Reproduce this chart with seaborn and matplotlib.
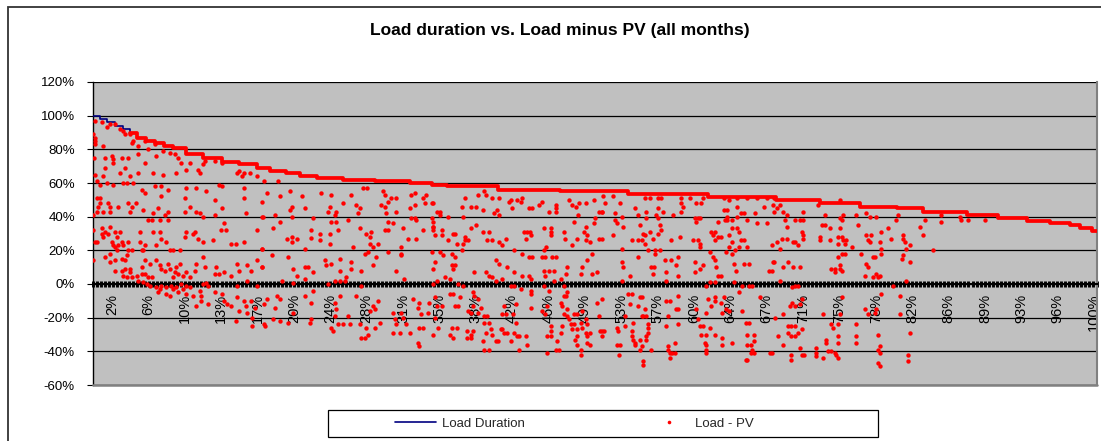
import numpy as np
import pandas as pd
import matplotlib
matplotlib.use("Agg")
import matplotlib.pyplot as plt
import seaborn as sns
from matplotlib.patches import Rectangle
from matplotlib.lines import Line2D

sns.set_theme(style="white")
plt.rcParams["font.family"] = ["Liberation Sans", "DejaVu Sans"]

# ---------------- data ----------------
title = "Load duration vs. Load minus PV (all months)"
x_labels = ["2%", "6%", "10%", "13%", "17%", "20%", "24%", "28%", "31%", "35%",
            "38%", "42%", "46%", "49%", "53%", "57%", "60%", "64%", "67%", "71%",
            "75%", "78%", "82%", "86%", "89%", "93%", "96%", "100%"]
y_ticks = [-60, -40, -20, 0, 20, 40, 60, 80, 100, 120]
y_labels = ["-60%", "-40%", "-20%", "0%", "20%", "40%", "60%", "80%", "100%", "120%"]

# Load duration curve (x = % of hours, y = % of peak load), step levels
ld_x = [0, 0.7, 1.4, 2.2, 3, 3.7, 4.4, 5.3, 6.2, 7.1, 8, 9.3, 11, 12.8, 14.5, 16.3,
        17.6, 19.2, 20.6, 22.3, 24.9, 28.1, 31.6, 33.8, 35.3, 40.3, 46.5, 53.3, 61.3,
        68, 72.4, 76.4, 80.1, 82.7, 84.9, 87.1, 90.1, 93, 95.3, 97.3, 98.3, 99.5, 100]
ld_y = [100, 98, 96, 94, 92, 90, 87, 85, 83.5, 82, 80.5, 77.5, 75, 72.7, 71, 69,
        67, 66, 64, 63, 62, 61, 60, 59, 58, 56, 55, 53.5, 51.5,
        50, 48, 46, 45, 43, 42.5, 41, 39, 37.5, 36, 35, 33, 31.5, 31.5]

# Load - PV scatter points (x %, y %)
pv_a = [(0.2,97),(0.9,96),(1.4,93),(1.7,95),(2.2,95),(2.7,92),(3,91),(3.2,89),(3.7,89),(4,85),(3.9,84),
        (5.2,85),(4.5,82),(6.2,83),(5.5,80),(6.3,76),(7,79),(7.7,78),(8.2,77),(8.5,75),(8.8,72),(9.7,72),
        (9.3,68),(10.5,68),(10.7,66),(11,71),(11.2,73),(12.2,73),(12.8,72),(14.5,67),(15,66),(15.6,66),
        (16.3,64),(17,61),(14.8,64),(14.3,66),(12.5,59),(12.8,58),(15,57),
        (0,89),(0.2,87),(0.2,85),(0.2,83),(1,82),(0.1,75),(1.2,75),(1.9,76),(2,74),(2,72),(2.9,75),(3.5,75),
        (4.5,77),(1.2,69),(0.2,65),(1,64),(0.4,61),(1.4,60),(0.7,59),(2,59),(3,60),(3.4,60),(2.7,66),(3.2,69),
        (3.7,64),(4,60),(4.5,66),(5.2,72),(6,66),(7,65),(8.3,66),(6.2,58),(6.8,58),(4.9,56),(5.2,54),(6.8,52),
        (7.5,56),(9.3,57),(10.3,57),(9.2,51),(11.3,55),(12.2,50),(0.4,51),(0.7,51),(0.7,48),(0.5,46),(1.5,48),
        (1.7,46),(2.5,46),(3.5,48),(3.9,46),(4.3,48),(3.7,43),(5,44),(6,42),(6.5,45),(7.5,43),(9.7,46),(9.2,43),
        (10.3,43),(10.7,42),(12.8,45),(0.4,43),(1,43),(0,41),(1.7,43),(5.5,38),(6.7,38),(7.2,41),(7.5,38),
        (11,40),(12.2,41),(15,51),(15.2,42),(16.8,40),(0,32),(0.9,33),(0.9,30),(1,28),(1.2,31),(1.5,30),
        (0.2,25),(0.4,25),(1.9,25),(1.7,34),(2.2,31),(2.7,31),(2.4,28),(2.9,25),(2.5,23),(2.2,22),(2,23),
        (3,23),(3.5,25),(3.9,20),(3.5,20),(4.7,31),(4.7,25),(4.9,20),(5,20),(5.2,23),(5.9,38),(6,31),(6.7,31),
        (6.8,27),(6.3,23),(7.3,25),(7.7,20),(8,20),(8.7,20),(9.3,31),(9.2,28),(10,30),(10.2,31),(10.5,27),
        (11,25),(12,26),(12.7,32),(13,36),(13.2,32),(13.7,24),(14.2,24),(15,25),(16.3,32),(16.8,21),(1.2,16),
        (0,14),(1.7,13),(2.2,14),(2.9,15),(3.2,14),(3.4,17),(1.7,18),(2.4,20),(2.2,8),(2.9,8),(3.2,9),(3.7,9),
        (3.7,7),(3,5),(3.4,4),(3.9,4),(4.4,5),(4.5,2),(4.9,6),(5.2,6),(5.5,4),(5.9,4),(4.9,10),(5.2,14),
        (5.7,12),(6.3,14),(6.7,11),(6.8,9),(7.2,8),(7.5,12),(7.7,9),(8.3,10),(8.7,12),(8.2,7),(8,4),(8.5,6),
        (9,5),(9.3,7),(10.3,12),(10.2,8),(9.7,4),(11,16),(11.2,10),(12.3,10),(12.5,6),(12.2,6),(13,7),
        (13.7,5),(14.3,12),(14.5,8),(15.3,11),(15.7,8),(16.3,14),(16.8,10),(15.3,2),(5,1),(5.4,0),(5.7,-1),
        (6.3,-2),(6.7,-3),(6.8,-1),(7.3,-2),(7.8,-1),(8,-3),(8.3,-2),(8.8,0),(9,-3),(9.3,-1),(9.7,-2),
        (6.5,-5),(7.3,-6),(7.7,-7),(8.5,-5),(9.3,-6),(10,-7),(10.7,-4),(10.8,-7),(11,0),(11.3,0.7),(11.5,-1),
        (10.3,-13),(10.8,-10),(11.5,-12),(12.2,-5),(12.8,-6),(13,-10),(13.3,-12),(13.7,-13),(14.3,-1),
        (14.3,-8),(14.2,-22),(14.5,-16),(15,-10),(15.2,-13),(15.3,-17),(15.7,-10),(15.8,-20),(15.8,-25),
        (16.1,-14),(17,-12),(17,-24),(16.3,-1)]

pv_b = [(18.4,61),(17.3,54),(16.8,49),(18.6,52),(19.6,55),(20.8,52),(21.1,45),(19.8,46),(19.6,44),(18.1,41),
        (19.8,40),(16.9,40),(18.6,37),(17.9,33),(19.3,27),(19.8,28),(19.8,25),(20.3,27),(16.8,21),(21.1,21),
        (17.8,17),(19.4,16),(16.8,10),(19.9,9),(21.1,10),(21.4,10),(21.9,7),(20.3,4.6),(21.1,3),(18.8,1.7),
        (19.9,0.3),(21.9,39.5),(21.7,32),(22.6,30),(21.7,27.5),(22.6,26),(22.7,54),(23.7,53),(23.6,46),
        (24.2,43),(24.1,41),(23.4,43),(24.9,48),(25.7,53),(26.2,47),(26.6,45),(26.4,42),(25.4,38),(23.7,37),
        (24.2,37),(24.4,32),(23.6,30),(26.6,33),(27.2,30),(27.7,31),(27.6,28),(27.6,24),(28.4,24),(27.9,22),
        (27.1,18),(27.4,19),(28.2,16),(27.9,11),(25.7,13),(25.9,22),(23.6,24),(23.1,14),(23.2,11),(23.7,12),
        (24.6,15),(24.6,8),(25.2,4),(25.7,9),(26.7,8),(23.4,0),(24.1,2),(24.6,2),(25.1,2),
        (26.9,57),(27.3,57),(28.9,55),(29.1,53),(29.4,49),(29.7,51),(30.2,51),(28.7,47),(29.1,46),(29.2,42),
        (30.2,43),(29.9,36),(29.4,37),(29.1,32),(29.4,32),(30.9,33),(31.6,45),(32.1,47),(31.7,53),(32.1,54),
        (32.9,51),(33.2,53),(33.1,48),(33.9,48),(32.1,39),(32.2,38),(31.7,39),(32.9,32),(33.9,37),(33.9,34),
        (31.4,27),(32.2,27),(30.7,22),(30.7,18),(30.7,17),(29.4,19),(30.2,8),(31,3),(33.9,0),
        (18.3,-7),(18.6,-9),(17.3,-9),(18.1,-14),(17.1,-25),(17.9,-21),(18.6,-22),(19.9,-17),(19.4,-23),
        (21.6,-23),(21.7,-21),(21.1,-7),(21.9,-4),(21.7,-11),(24.1,-11),(24.2,-15),(24.1,-19),(23.7,-26),
        (23.9,-28),(24.4,-24),(24.9,-24),(25.4,-19),(24.6,-7),(25.6,-24),(26.6,-24),(26.7,-32),(27.1,-32),
        (27.2,-26),(27.4,-30),(28.1,-26),(28.6,-23),(28.1,-15),(28.4,-10),(27.9,-13),(27.6,-16),(29.9,-17),
        (30.1,-21),(30.2,-24),(30.6,-29),(29.9,-29),(31.2,-24),(31.6,-29),(30.9,-20),(30.7,-17),(31.9,-9),
        (32.5,-11),(32.4,-14),(32.7,-18),(32.5,-26),(32.9,-26),(32.4,-35),(32.5,-37),(33.5,-11),(33.4,-17),
        (26.7,-1),(26.2,-7)]

pv_c = [(33.8,48),(34.3,43),(34.6,43),(34.6,41),(35.4,40),(36.9,40),(38.3,53),(38.9,55),(39.1,53),(37.1,51),
        (38.1,46),(37.6,46),(36.8,46),(38.8,44),(39.7,51),(40.4,51),(39.9,42),(40.2,44),(40.4,41),(41.6,50),
        (41.4,49),(41.7,45),(42.2,50),(42.7,51),(42.6,49),(43.4,45),(43.7,45),(44.4,47),(44.7,49),(45.4,43),
        (46.1,47),(46.1,45),(46.1,43),(47.4,50),(47.7,47),(48.1,46),(48.4,48),(49.1,48),(49.9,50),(50.4,43),
        (50.7,43),(47.9,37),(48.3,41),(50,39),(49.9,36),(49.1,34),(48.9,31),(49.2,29),(49.5,25),(49.1,26),
        (50.4,27),(48.2,27),(47.7,23),(47,27),(46.9,31),(45.6,33),(45.6,31),(45.6,29),(44.9,33),(45.1,22),
        (44.9,20),(44.7,16),(45,16),(45.7,16),(46.1,16),(43.6,29),(43.1,27),(43.2,31),(43.5,31),(42.9,31),
        (43.7,16),(43.4,16),(42.7,18),(41.9,20),(41.1,27),(40.7,23),(40.4,25),(39.7,26),(39.4,31),(38.8,31),
        (39.2,26),(38.1,35),(37.6,33),(37.4,26),(37.1,26),(37.1,28),(36.9,24),(36.3,24),(36.8,20),(36.1,30),
        (35.9,30),(35.4,26),(34.8,32),(34.8,29),(33.9,32),(34.1,29),(33.9,34),(33.8,39),(33.8,19),(34.6,19),
        (34.9,17),(35.8,18),(36.1,16),(35.8,11),(36.1,11),(35.9,9),(34.1,13),(33.9,9),(35.1,4),(34.3,2),
        (35.6,3),(36.4,0),(36.9,-1),(37.9,7),(39.1,7),(39.4,5),(39.7,4),(40.1,2),(40.7,3),(40.4,12),(40.1,14),
        (41.2,10),(41.9,7),(41.9,-1),(41.6,-1),(42.7,5),(43.4,5),(43.6,3),(44.9,8),(45.4,8),(45.9,8),(46.6,3),
        (47.1,6),(45,5),(45.9,2),(47.2,10),(48.7,10),(49.2,14),(49.7,18),(50.2,7),(49.7,6),(48.6,6),(44.9,-1),
        (46.9,-1),
        (34.1,-8),(34.3,-13),(34.8,-13),(36.1,-13),(36.4,-13),(36.6,-8),(35.9,-6),(35.6,-6),(34.1,-20),
        (33.9,-30),(34.4,-26),(35.8,-26),(36.3,-26),(35.6,-30),(35.9,-32),(37.3,-28),(37.6,-30),(37.3,-32),
        (37.6,-32),(37.8,-28),(37.8,-5),(37.9,-7),(38.3,-9),(37.8,-13),(37.4,-16),(37.6,-17),(38.3,-17),
        (38.6,-14),(38.9,-19),(39.2,-19),(39.4,-23),(38.9,-23),(39.1,-29),(38.8,-34),(38.9,-39),(39.4,-39),
        (39.6,-27),(39.7,-30),(40.1,-34),(40.3,-34),(40.6,-27),(40.7,-27),(40.9,-29),(41.2,-29),(41.1,-18),
        (40.7,-18),(40.9,-13),(41.8,-18),(42.1,-23),(41.9,-29),(42.4,-31),(42.2,-31),(41.6,-34),(42.4,-39),
        (43.1,-31),(43.2,-36),(42.1,-12),(42.6,-3),(43.6,-6),(43.6,-14),(44.7,-16),(45.2,-13),(45,-18),
        (45.2,-31),(45.6,-31),(45.6,-25),(45.6,-28),(45.2,-41),(46.2,-34),(46.4,-39),(46.1,-39),(46.6,-29),
        (46.7,-25),(46.7,-13),(46.6,-11),(46.9,-18),(47.2,-19),(47.1,-7),(47.2,-15),(47.4,-21),(47.6,-24),
        (47.9,-24),(47.7,-27),(48.2,-27),(48.2,-31),(48,-33),(48.2,-36),(47.9,-18),(48.2,-18),(48.7,-16),
        (48.6,-23),(49.1,-21),(49.2,-24),(49.1,-29),(49.2,-31),(49.2,-35),(49.5,-36),(48.6,-39),(48.6,-42),
        (49.5,-29),(48.7,-26),(50.2,-11),(50.4,-19),(50.5,-28),(50.9,-28),(50.7,-31),(47.2,-5),(46.9,-7),
        (45.4,-4),(43.6,-4)]

pv_d = [(50.8,52),(51,48),(51.8,52),(52.5,48),(52,42),(52.2,36),(52,38),(52.7,40),(52.8,34),(51.8,29),
        (50.7,27),(50.7,43),(54,45),(54.3,41),(55.1,43),(55.1,39),(55,51),(55.5,51),(56.3,51),(56.6,51),
        (56.3,45),(56.8,43),(56.1,41),(56.3,39),(56.5,35),(56.6,32),(56.3,30),(55.5,31),(54.8,30),(54.5,35),
        (54.7,26),(54.3,26),(53.7,26),(55,29),(55,24),(55.8,27),(55.3,20),(56,20),(56,18),(56.5,20),(57.6,26),
        (58.5,28),(57.8,41),(58.6,51),(58.6,48),(58.6,43),(58.8,46),(59.5,51),(60.1,48),(60.6,48),(60.8,51),
        (60,39),(60.1,37),(60.3,39),(60.5,39),(59.8,26),(60.3,26),(60.5,24),(60.5,22),(61.6,31),(62,31),
        (61.8,29),(62.3,28),(62,26),(62.5,28),(62.3,37),(63.1,38),(63.1,40),(63.1,44),(62.9,38),(62.8,44),
        (63.6,38),(63.6,33),(64.1,33),(64.3,31),(63.3,29),(63.6,25),(63.3,22),(63.9,20),(63.6,18),(64.3,22),
        (64.5,26),(64.8,26),(64.5,42),(64.8,42),(64.1,40),(65.1,38),(65.1,22),(64.1,46),(65.9,42),(66.1,36),
        (67.1,36),(66.8,46),(67.8,43),(66.1,51),(67.1,51),(67.8,51),(65.1,51),(64.1,51),(63.3,50),(62.8,51),
        (52.7,21),(52.7,13),(52.8,10),(52.7,2),(53.5,5),(54.3,16),(55.6,10),(55.9,10),(55.8,6),(57,14),(57.1,7),
        (57.1,2),(57.6,14),(58.1,11),(58.3,16),(58.3,5),(60,13),(60,7),(60.5,9),(60.8,11),(61.5,19),(61.8,16),
        (62,14),(62.1,10),(62.3,5),(62.5,5),(63,19),(63.8,12),(64,8),(64.8,12),(65.3,12),(67.3,8),(67.6,8),
        (67.8,13),(63.8,1),(64.6,-1),(65.3,-1),(65.6,-1),(61.5,1),(62,1),(61.1,-1),
        (50.7,-9),(50.7,-28),(52.2,-26),(52.3,-28),(52.2,-36),(52.5,-36),(52.4,-42),(53.3,-6),(53.7,-6),
        (53.5,-12),(53,-19),(53,-25),(53.7,-28),(53.8,-23),(53.7,-31),(54,-35),(53.8,-33),(54,-36),(54.5,-33),
        (54.5,-8),(54.7,-8),(54.3,-13),(54.7,-19),(54.8,-19),(55.1,-19),(55,-15),(55.3,-24),(55.3,-26),
        (55.3,-29),(55.1,-31),(55.1,-33),(54.7,-37),(54.8,-46),(54.8,-48),(54.5,-39),(55.6,-39),(57.1,-10),
        (57.5,-10),(57.3,-19),(57.1,-25),(58.1,-15),(58.3,-15),(58.3,-24),(58.3,-7),(58,-35),(57.3,-37),
        (57.3,-39),(57.5,-41),(57.5,-44),(57.7,-41),(58,-41),(60.1,-15),(60.3,-21),(60.5,-25),(60.8,-25),
        (61.1,-30),(60.6,-30),(61,-35),(61.1,-36),(61.1,-39),(61.1,-41),(61.5,-26),(62,-30),(61.1,-17),
        (61.6,-13),(61.3,-9),(62,-8),(62,-10),(62.8,-8),(63,-15),(62.5,-11),(62.6,-17),(63.3,-16),(62.6,-32),
        (62.6,-36),(63.6,-35),(64.6,-16),(65,-23),(65.3,-23),(65.1,-30),(65.8,-30),(65.1,-36),(65.5,-36),
        (65.8,-34),(65.6,-39),(65.1,-45),(65,-45),(65.5,-41),(65.8,-41),(64.3,-5),(66.4,-8),(67.4,-41)]

pv_e = [(67.7,47),(68.1,45),(68.4,47),(68.7,43),(69.1,41),(68.9,38),(69.1,34),(69.9,38),(70.4,38),(70.7,38),
        (70.7,43),(70.6,31),(70.7,29),(70.7,27),(69.9,25),(69.7,25),(70.2,23),(69.1,27),(68.6,27),(68.1,25),
        (68.4,21),(67.6,23),(67.7,13),(68.7,10),(69.2,13),(69.7,10),(70.4,10),(68.4,2),(69.9,-1),(69.6,-2),
        (70.2,-1),(72.2,47),(72.9,41),(72.6,35),(72.9,35),(73.4,33),(72.4,28),(72.4,26),(73.4,26),(74.4,50),
        (74.4,39),(74.7,41),(74.6,38),(74.2,28),(74.6,28),(74.4,33),(74.7,26),(75,26),(74.2,24),(74.9,24),
        (75.6,22),(74.6,18),(74.9,18),(74.2,16),(73.5,9),(73.9,9),(74.4,9),(74.6,8),(73.9,7),(74.4,11),(76,41),
        (76.2,35),(77,42),(77.4,40),(78,40),(77,29),(77.2,26),(77.4,25),(77.5,29),(76.5,18),(77.7,16),(77.9,16),
        (77,12),(77.2,10),(76.9,5),(77.7,4),(78.2,4),(78,6),(78.4,5),(78.5,21),(78.5,18),(78.4,25),(78.5,31),
        (79.2,33),(79.5,27),(80.2,41),(80,38),(80.7,29),(80.7,27),(80.9,25),(81,21),(81.4,23),(80.7,17),
        (80.6,15),(81.4,13),(81,2),(82.4,34),(82.9,38),(82.7,29),(83.7,20),(84.5,41),(79.7,-1),
        (68.7,-18),(69.4,-13),(69.6,-11),(69.9,-13),(70.6,-9),(70.4,-12),(67.9,-20),(67.6,-41),(68.2,-31),
        (68.7,-36),(69.2,-25),(69.5,-25),(69.9,-25),(69.2,-29),(69.5,-31),(69.9,-31),(70.2,-29),(70.6,-27),
        (69.5,-42),(69.5,-45),(70.4,-38),(70.6,-42),(70.8,-42),(72,-38),(72,-41),(72,-43),(72.7,-44),
        (72.7,-18),(73,-33),(73,-35),(73.5,-24),(73.7,-26),(73.2,-40),(73.5,-40),(73.9,-41),(74,-42),
        (74.2,-44),(74.2,-35),(74.2,-31),(74.2,-24),(74.4,-18),(74.6,-8),(76,-24),(76,-31),(76,-35),
        (76.9,-15),(77.2,-18),(77.9,-17),(78,-15),(78.2,-30),(78.4,-37),(78.2,-39),(78.4,-41),(78.2,-47),
        (78.4,-49),(78.5,-6),(80.4,-7),(80.4,-18),(81.4,-29),(81.2,-42),(81.2,-46)]

pv_f = [(84.5,37),(86.5,38),(87.2,38),(86.4,40),(88.8,38)]

# ---------------- figure ----------------
W, H = 1101, 441
fig = plt.figure(figsize=(W / 100, H / 100), dpi=100)
fig.patch.set_facecolor("white")

# outer chart border
fig.add_artist(Rectangle((8 / W, -0.1), 1.2, 1 - 7 / H + 0.1, transform=fig.transFigure,
                         fill=False, edgecolor="#333333", lw=1.3, zorder=0))

ax = fig.add_axes([93 / W, 1 - 385 / H, 1004 / W, 303 / H])
ax.set_facecolor("#C0C0C0")

pts = pv_a + pv_b + pv_c + pv_d + pv_e + pv_f
df_pv = pd.DataFrame(pts, columns=["x", "y"])
df_ld = pd.DataFrame({"x": ld_x, "y": ld_y})

# load duration (blue line)
sns.lineplot(data=df_ld, x="x", y="y", color="#000080", lw=1.2, drawstyle="steps-post",
             estimator=None, sort=False, ax=ax, zorder=3)
# night hours: Load - PV equals load -> dense red band on the duration curve
env = df_ld[df_ld["x"] >= 3.7]
sns.lineplot(data=env, x="x", y="y", color="red", lw=2.7, drawstyle="steps-post",
             estimator=None, sort=False, ax=ax, zorder=4)
# Load - PV scatter
sns.scatterplot(data=df_pv, x="x", y="y", color="red", s=10, marker="o", linewidth=0,
                ax=ax, zorder=5, legend=False)

ax.set_xlim(0, 100)
ax.set_ylim(-60, 120)
ax.set_xlabel("")
ax.set_ylabel("")

# y axis
ax.set_yticks(y_ticks)
ax.set_yticklabels(y_labels)
ax.yaxis.grid(True, color="black", lw=0.9)
ax.xaxis.grid(False)
ax.set_axisbelow(True)
ax.tick_params(axis="y", left=True, direction="out", length=4, width=0.8, color="black",
               labelsize=9.5, pad=9, labelcolor="black")

# x axis crossing at 0 with dense tick marks
ax.spines["bottom"].set_position(("data", 0))
ax.spines["bottom"].set_color("black")
ax.spines["bottom"].set_linewidth(1.5)
ax.spines["left"].set_color("black")
ax.spines["left"].set_linewidth(1.0)
ax.spines["top"].set_visible(False)
ax.spines["right"].set_color("#808080")
ax.spines["right"].set_linewidth(1.5)
ax.axhline(-60, color="#808080", lw=1.8, clip_on=False, zorder=6)

ax.set_xticks(np.linspace(1.9, 99.7, len(x_labels)))
ax.set_xticklabels(x_labels, rotation=90)
ax.set_xticks(np.linspace(0, 100, 251), minor=True)
ax.tick_params(axis="x", which="major", bottom=True, length=0, labelsize=10.5, pad=7,
               labelcolor="black")
ax.tick_params(axis="x", which="minor", bottom=True, direction="inout", length=4,
               width=2.1, color="black")

# title
fig.text(560 / W, 1 - 30 / H, title, ha="center", va="center", fontsize=12.5,
         fontweight="bold", color="black")

# legend with box
fig.add_artist(Rectangle((328 / W, 1 - 437 / H), 550 / W, 27 / H, transform=fig.transFigure,
                         facecolor="white", edgecolor="black", lw=0.9, zorder=1))
handles = [Line2D([], [], color="#000080", lw=1.2, label="Load Duration"),
           Line2D([], [], color="red", marker="o", ls="none", markersize=2.6,
                  markeredgewidth=0, label="Load - PV")]
fig.legend(handles=handles, loc="center left", bbox_to_anchor=(383 / W, 1 - 423.5 / H),
           ncol=2, frameon=False, handlelength=3.1, handletextpad=0.45,
           columnspacing=9.4, fontsize=9.5)

fig.savefig("out.png", dpi=100)
